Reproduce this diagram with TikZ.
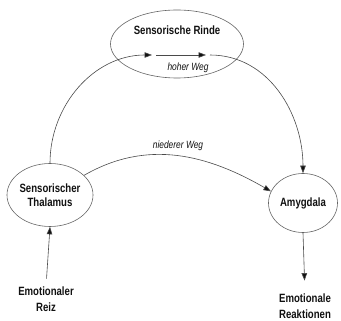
\documentclass[tikz,border=0pt]{standalone}
\usepackage{fontspec}
\setmainfont{Liberation Sans}[FakeStretch=0.8]
\usepackage{xcolor}
\usepackage{tikz}
\usetikzlibrary{arrows.meta,positioning,shapes.geometric}
\definecolor{ldLine}{HTML}{4A4A4A}
\definecolor{ldInk}{HTML}{111111}
\tikzset{
  brain area/.style={ellipse,draw=ldLine!85,line width=0.6pt,fill=white,inner sep=0pt,
    align=center,font=\fontsize{12}{14}\selectfont\bfseries,text=ldInk},
  signal text/.style={align=center,inner sep=0pt,font=\fontsize{12}{15.5}\selectfont\bfseries,text=ldInk},
  route label/.style={inner sep=1pt,font=\fontsize{10.5}{12}\selectfont\itshape,text=ldInk},
  route arrow/.style={-{Triangle[length=7.5pt,width=5.5pt,fill=ldInk]},line width=0.6pt,draw=ldLine}
}
\begin{document}
\begin{tikzpicture}[x=1pt,y=1pt]
\useasboundingbox (0,0) rectangle (341,321);
\node[brain area,minimum width=133pt,minimum height=68pt] (rinde) at (177,277) {Sensorische Rinde\\[14pt]};
\node[brain area,minimum width=80pt,minimum height=63pt] (thal) at (50,126) {Sensorischer\\Thalamus};
\node[brain area,minimum width=69pt,minimum height=59pt] (amyg) at (303,118) {Amygdala};
\node[signal text] (reiz) at (46,22) {Emotionaler\\Reiz};
\node[signal text] (reakt) at (305,15) {Emotionale\\Reaktionen};
\coordinate (h1) at (152,266);
\coordinate (h2) at (156,266);
\coordinate (h3) at (206,266);
\coordinate (h4) at (210,266);
% hoher Weg
\draw[route arrow] (thal.north) to[out=90,in=180] (h1);
\draw[route arrow] (h2) -- (h3);
\draw[route arrow] (h4) to[out=0,in=90] (amyg.north);
\node[route label] (hoch) at (188,253) {hoher Weg};
% niederer Weg
\draw[route arrow] (thal.30) to[out=30,in=150] (amyg.160);
\node[route label] (nieder) at (178,175) {niederer Weg};
\draw[route arrow,shorten <=8pt] (reiz.north) -- (thal.south);
\draw[route arrow,shorten >=13pt] (amyg.south) -- (reakt.north);
\end{tikzpicture}
\end{document}
